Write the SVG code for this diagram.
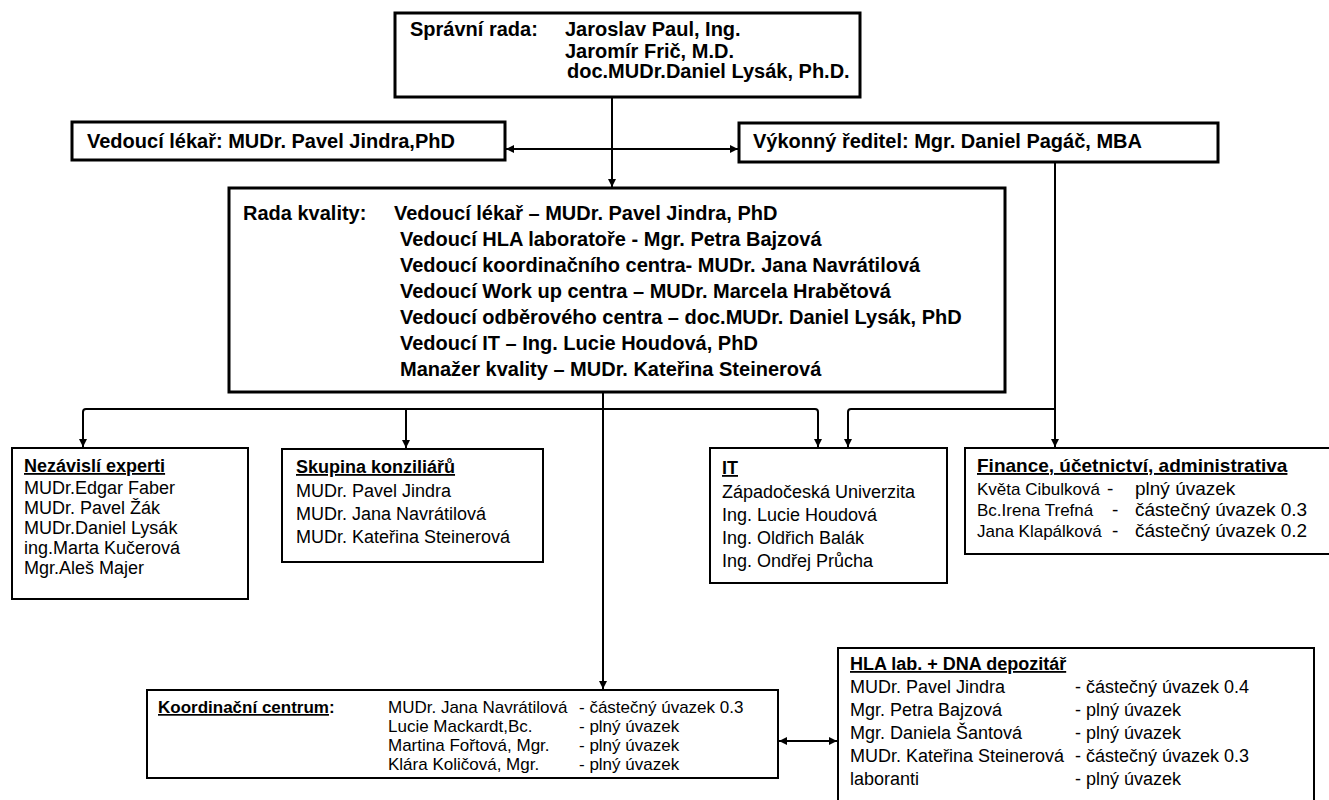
<svg xmlns="http://www.w3.org/2000/svg" width="1329" height="800" viewBox="0 0 1329 800">
<style>
text{font-family:"Liberation Sans",Arial,sans-serif;fill:#000}
.b{font-weight:bold;font-size:20px}
.r{font-size:18px}
.k{font-size:17px}
.f{font-size:19px}
.fn{font-size:17px}
.h{font-weight:bold;font-size:18px;text-decoration:underline}
.box{fill:#fff;stroke:#000;stroke-width:2}
.tbox{fill:#fff;stroke:#000;stroke-width:3}
.c{fill:none;stroke:#000;stroke-width:2}
</style>
<defs>
<marker id="ah" viewBox="0 0 10 10" refX="10" refY="5" markerWidth="8" markerHeight="8" markerUnits="userSpaceOnUse" orient="auto-start-reverse">
<path d="M0,0 L10,5 L0,10 z" fill="#000"/>
</marker>
</defs>
<rect width="1329" height="800" fill="#fff"/>
<g id="connectors">
<path class="c" d="M612,97 V187" marker-end="url(#ah)"/>
<path class="c" d="M506,149 H738" marker-start="url(#ah)" marker-end="url(#ah)"/>
<path class="c" d="M603,392 V689" marker-end="url(#ah)"/>
<path class="c" d="M83,447 V412 Q83,409 86,409 H815 Q818,409 818,412 V447" marker-start="url(#ah)" marker-end="url(#ah)"/>
<path class="c" d="M406,409 V448" marker-end="url(#ah)"/>
<path class="c" d="M1055,162 V447" marker-end="url(#ah)"/>
<path class="c" d="M1055,409 H851 Q848,409 848,412 V447" marker-end="url(#ah)"/>
<path class="c" d="M779,741 H837" marker-start="url(#ah)" marker-end="url(#ah)"/>
</g>
<g id="spravni-rada">
<rect class="tbox" x="395" y="13" width="465" height="84"/>
<text class="b" x="410" y="36">Správní rada:</text>
<text class="b" x="565" y="36">Jaroslav Paul, Ing.</text>
<text class="b" x="565" y="58">Jaromír Frič, M.D.</text>
<text class="b" x="567" y="78">doc.MUDr.Daniel Lysák, Ph.D.</text>
</g>
<g id="vedouci-lekar">
<rect class="tbox" x="72" y="122" width="433" height="38"/>
<text class="b" x="87" y="148">Vedoucí lékař: MUDr. Pavel Jindra,PhD</text>
</g>
<g id="vykonny-reditel">
<rect class="tbox" x="739" y="123" width="479" height="39"/>
<text class="b" x="753" y="148">Výkonný ředitel: Mgr. Daniel Pagáč, MBA</text>
</g>
<g id="rada-kvality">
<rect class="tbox" x="229" y="188" width="776" height="204"/>
<text class="b" x="243" y="220">Rada kvality:</text>
<text class="b" x="394" y="220">Vedoucí lékař – MUDr. Pavel Jindra, PhD</text>
<text class="b" x="400" y="246">Vedoucí HLA laboratoře -  Mgr. Petra Bajzová</text>
<text class="b" x="400" y="272">Vedoucí koordinačního centra- MUDr. Jana Navrátilová</text>
<text class="b" x="400" y="298">Vedoucí Work up centra – MUDr. Marcela Hrabětová</text>
<text class="b" x="400" y="324">Vedoucí odběrového centra – doc.MUDr. Daniel Lysák, PhD</text>
<text class="b" x="400" y="350">Vedoucí IT – Ing. Lucie Houdová, PhD</text>
<text class="b" x="400" y="376">Manažer kvality – MUDr. Kateřina Steinerová</text>
</g>
<g id="nezavisli-experti">
<rect class="box" x="12" y="448" width="236" height="151"/>
<text class="h" x="24" y="472">Nezávislí experti</text>
<text class="r" x="24" y="494">MUDr.Edgar Faber</text>
<text class="r" x="24" y="514">MUDr. Pavel Žák</text>
<text class="r" x="24" y="534">MUDr.Daniel Lysák</text>
<text class="r" x="24" y="554">ing.Marta Kučerová</text>
<text class="r" x="24" y="574">Mgr.Aleš Majer</text>
</g>
<g id="skupina-konziliaru">
<rect class="box" x="282" y="449" width="261" height="113"/>
<text class="h" x="296" y="473">Skupina konziliářů</text>
<text class="r" x="296" y="497">MUDr. Pavel Jindra</text>
<text class="r" x="296" y="520">MUDr. Jana Navrátilová</text>
<text class="r" x="296" y="543">MUDr. Kateřina Steinerová</text>
</g>
<g id="it">
<rect class="box" x="710" y="448" width="237" height="135"/>
<text class="h" x="722" y="474">IT</text>
<text class="r" x="722" y="498">Západočeská Univerzita</text>
<text class="r" x="722" y="521">Ing. Lucie Houdová</text>
<text class="r" x="722" y="544">Ing. Oldřich Balák</text>
<text class="r" x="722" y="567">Ing. Ondřej Průcha</text>
</g>
<g id="finance">
<rect class="box" x="965" y="448" width="380" height="106"/>
<text class="h" x="977" y="472" style="font-size:19px">Finance, účetnictví, administrativa</text>
<text class="fn" x="977" y="495">Květa Cibulková</text>
<text class="f" x="1107" y="495">-</text>
<text class="f" x="1135" y="495">plný úvazek</text>
<text class="fn" x="977" y="516">Bc.Irena Trefná</text>
<text class="f" x="1112" y="516">-</text>
<text class="f" x="1135" y="516">částečný úvazek 0.3</text>
<text class="fn" x="977" y="537">Jana Klapálková</text>
<text class="f" x="1112" y="537">-</text>
<text class="f" x="1135" y="537">částečný úvazek 0.2</text>
</g>
<g id="koordinacni-centrum">
<rect class="box" x="147" y="690" width="631" height="88"/>
<text x="158" y="713" style="font-weight:bold;font-size:17px"><tspan text-decoration="underline">Koordinační centrum</tspan>:</text>
<text class="k" x="388" y="713">MUDr. Jana Navrátilová</text>
<text class="k" x="579" y="713">- částečný úvazek 0.3</text>
<text class="k" x="388" y="732">Lucie Mackardt,Bc.</text>
<text class="k" x="579" y="732">- plný úvazek</text>
<text class="k" x="388" y="751">Martina Fořtová, Mgr.</text>
<text class="k" x="579" y="751">- plný úvazek</text>
<text class="k" x="388" y="770">Klára Količová, Mgr.</text>
<text class="k" x="579" y="770">- plný úvazek</text>
</g>
<g id="hla-lab">
<rect class="box" x="838" y="648" width="476" height="160"/>
<text class="h" x="850" y="670">HLA lab. + DNA depozitář</text>
<text class="r" x="850" y="693">MUDr. Pavel Jindra</text>
<text class="r" x="1075" y="693">- částečný úvazek 0.4</text>
<text class="r" x="850" y="716">Mgr. Petra Bajzová</text>
<text class="r" x="1075" y="716">- plný úvazek</text>
<text class="r" x="850" y="739">Mgr. Daniela Šantová</text>
<text class="r" x="1075" y="739">- plný úvazek</text>
<text class="r" x="850" y="762">MUDr. Kateřina Steinerová</text>
<text class="r" x="1075" y="762">- částečný úvazek 0.3</text>
<text class="r" x="850" y="785">laboranti</text>
<text class="r" x="1075" y="785">- plný úvazek</text>
</g>
</svg>
